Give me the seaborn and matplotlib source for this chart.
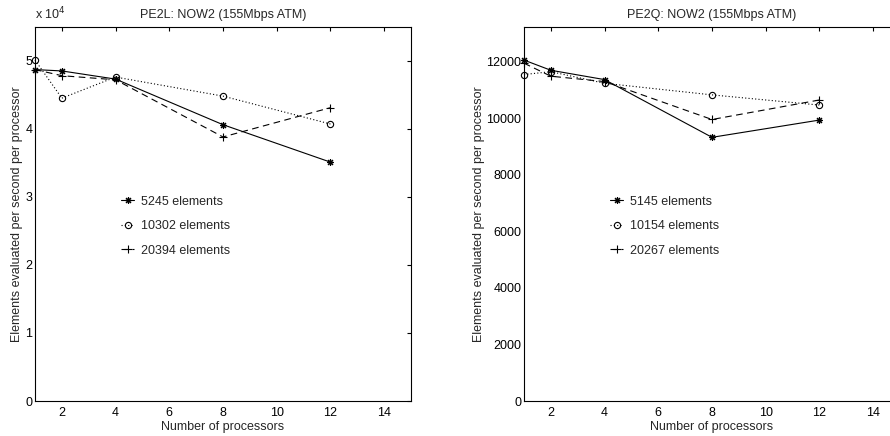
import pandas as pd
import seaborn as sns
import matplotlib
matplotlib.use('Agg')
import matplotlib.pyplot as plt
from matplotlib.ticker import FuncFormatter

# processadores
procs = [1, 2, 4, 8, 12]

# PE2L (valores em elementos/s por processador)
pe2l_labels = ['5245 elements', '10302 elements', '20394 elements']
pe2l_5245 = [48700, 48500, 47300, 40600, 35100]
pe2l_10302 = [50100, 44500, 47600, 44800, 40700]
pe2l_20394 = [48700, 47800, 47200, 38800, 43100]

# PE2Q
pe2q_labels = ['5145 elements', '10154 elements', '20267 elements']
pe2q_5145 = [12050, 11690, 11360, 9320, 9930]
pe2q_10154 = [11540, 11640, 11230, 10820, 10460]
pe2q_20267 = [11940, 11480, 11290, 9950, 10640]

sns.set_style('white')
plt.rcParams['font.family'] = ['Liberation Sans', 'DejaVu Sans']
plt.rcParams['font.size'] = 9
plt.rcParams['axes.linewidth'] = 0.8
plt.rcParams['xtick.direction'] = 'in'
plt.rcParams['ytick.direction'] = 'in'
plt.rcParams['xtick.top'] = True
plt.rcParams['ytick.right'] = True
plt.rcParams['xtick.major.size'] = 3
plt.rcParams['ytick.major.size'] = 3

asterisk = (8, 2, 0)
estilos = [
    dict(marker=asterisk, linestyle='-', markersize=5),
    dict(marker='o', linestyle=(0, (1, 2)), markersize=4.5, markerfacecolor='none'),
    dict(marker='+', linestyle=(0, (6, 4)), markersize=5.5),
]

fig = plt.figure(figsize=(8.9, 4.36), dpi=100)
ax1 = fig.add_axes([35 / 890, 35 / 436, 376 / 890, 374.3 / 436])
ax2 = fig.add_axes([524 / 890, 35 / 436, 376 / 890, 374.3 / 436])


def desenha(ax, series, labels, title, ylim, yticks):
    for vals, lab, st in zip(series, labels, estilos):
        df = pd.DataFrame({'procs': procs, 'val': vals})
        sns.lineplot(data=df, x='procs', y='val', ax=ax, color='black',
                     linewidth=0.8, label=lab)
        ln = ax.lines[-1]
        ln.set(markeredgecolor='black', markeredgewidth=0.8, clip_on=False, **st)
    ax.set_xlim(1, 15)
    ax.set_ylim(*ylim)
    ax.set_xticks([2, 4, 6, 8, 10, 12, 14])
    ax.set_yticks(yticks)
    ax.set_title(title, fontsize=9, pad=6)
    ax.set_xlabel('Number of processors', labelpad=2)
    ax.set_ylabel('Elements evaluated per second per processor')
    ax.tick_params(colors='black', pad=2, width=0.8)
    ax.tick_params(axis='x', pad=4)
    for s in ax.spines.values():
        s.set_color('black')
    ax.legend(loc='upper left', bbox_to_anchor=(0.213, 0.565), frameon=False,
              borderpad=0, handlelength=1.0, handletextpad=0.6,
              labelspacing=1.0, fontsize=9)


desenha(ax1, [pe2l_5245, pe2l_10302, pe2l_20394], pe2l_labels,
        'PE2L: NOW2 (155Mbps ATM)', (0, 55000), [0, 10000, 20000, 30000, 40000, 50000])
ax1.yaxis.set_major_formatter(FuncFormatter(lambda v, p: f'{v / 1e4:g}'))
ax1.text(0, 1.012, 'x 10$^{4}$', transform=ax1.transAxes, fontsize=9, va='bottom')
ax1.yaxis.labelpad = 1.5

desenha(ax2, [pe2q_5145, pe2q_10154, pe2q_20267], pe2q_labels,
        'PE2Q: NOW2 (155Mbps ATM)', (0, 13230), [0, 2000, 4000, 6000, 8000, 10000, 12000])
ax2.yaxis.labelpad = 1

plt.savefig('out.png', dpi=100)
